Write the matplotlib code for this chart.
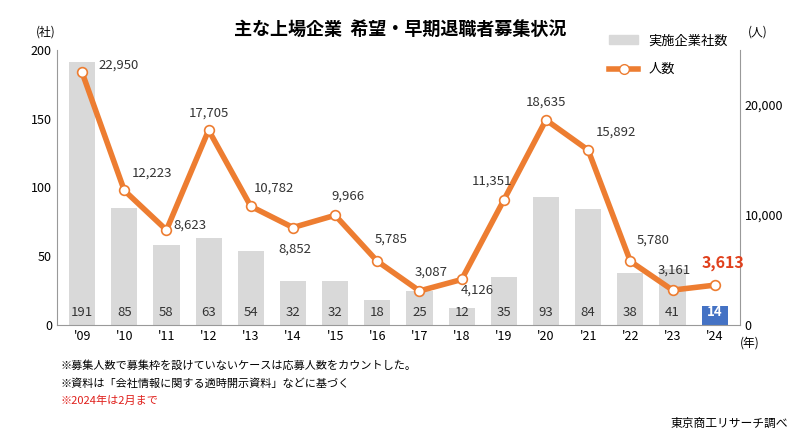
import matplotlib.pyplot as plt
from matplotlib.lines import Line2D
from matplotlib.patches import Patch

plt.rcParams['font.family'] = 'Noto Sans CJK JP'

years = ["'09", "'10", "'11", "'12", "'13", "'14", "'15", "'16", "'17", "'18", "'19", "'20", "'21", "'22", "'23", "'24"]
companies = [191, 85, 58, 63, 54, 32, 32, 18, 25, 12, 35, 93, 84, 38, 41, 14]
people = [22950, 12223, 8623, 17705, 10782, 8852, 9966, 5785, 3087, 4126, 11351, 18635, 15892, 5780, 3161, 3613]

# label offsets in pixels (dx, dy)
offs = [(37, 7), (28, 17), (23, 5), (0, 17), (23, 18), (2, -22), (13, 19), (14, 22),
        (12, 19), (16, -11), (-12, 19), (0, 18), (28, 18), (23, 21), (2, 20), (8, 22)]

orange = '#ED7D31'
fig = plt.figure(figsize=(8, 4.42), dpi=100)
ax = fig.add_axes([0.071, 0.265, 0.854, 0.622])
x = list(range(len(years)))
colors = ['#D9D9D9'] * (len(years) - 1) + ['#4472C4']
ax.bar(x, companies, width=0.62, color=colors, zorder=1)
for i, v in enumerate(companies):
    last = i == len(years) - 1
    ax.text(i, 9, str(v), ha='center', va='center', fontsize=9.5,
            color='white' if last else '#333333', fontweight='bold' if last else 'normal', zorder=5)
ax.set_ylim(0, 200)
ax.set_yticks([0, 50, 100, 150, 200])
ax.set_xlim(-0.6, len(years) - 0.4)
ax.set_xticks(x)
ax.set_xticklabels(years)
ax.tick_params(labelsize=9, length=0)
for s in ['top', 'right']:
    ax.spines[s].set_visible(False)
ax.spines['left'].set_color('#999999')
ax.spines['bottom'].set_color('#999999')

ax2 = ax.twinx()
ax2.plot(x, people, color=orange, lw=4, marker='o', ms=7, mfc='white', mec=orange, mew=1.2, zorder=3)
ax2.set_ylim(0, 25000)
ax2.set_yticks([0, 10000, 20000])
ax2.set_yticklabels(['0', '10,000', '20,000'])
ax2.tick_params(labelsize=9, length=0)
for s in ['top', 'left', 'bottom']:
    ax2.spines[s].set_visible(False)
ax2.spines['right'].set_color('#999999')
for i, v in enumerate(people):
    last = i == len(people) - 1
    ax2.annotate(f'{v:,}', (i, v), xytext=offs[i], textcoords='offset pixels', ha='center', va='center',
                 fontsize=11.5 if last else 9.5, color='#E0401C' if last else '#333333',
                 fontweight='bold' if last else 'normal')

handles = [Patch(color='#D9D9D9'),
           Line2D([], [], color=orange, lw=4, marker='o', ms=7, mfc='white', mec=orange)]
ax2.legend(handles, ['実施企業社数', '人数'], loc='upper right', bbox_to_anchor=(1.0, 1.1),
           frameon=False, fontsize=9.5, handlelength=2.2, labelspacing=1.2)

fig.text(0.5, 0.92, '主な上場企業  希望・早期退職者募集状況', ha='center', fontsize=13, fontweight='bold')
fig.text(0.045, 0.92, '(社)', fontsize=8.5)
fig.text(0.935, 0.92, '(人)', fontsize=8.5)
fig.text(0.925, 0.215, '(年)', fontsize=8.5)
fig.text(0.075, 0.165, '※募集人数で募集枠を設けていないケースは応募人数をカウントした。', fontsize=8)
fig.text(0.075, 0.125, '※資料は「会社情報に関する適時開示資料」などに基づく', fontsize=8)
fig.text(0.075, 0.085, '※2024年は2月まで', fontsize=8, color='#E0201C')
fig.text(0.985, 0.035, '東京商工リサーチ調べ', ha='right', fontsize=8.5)

fig.savefig('out.png')
